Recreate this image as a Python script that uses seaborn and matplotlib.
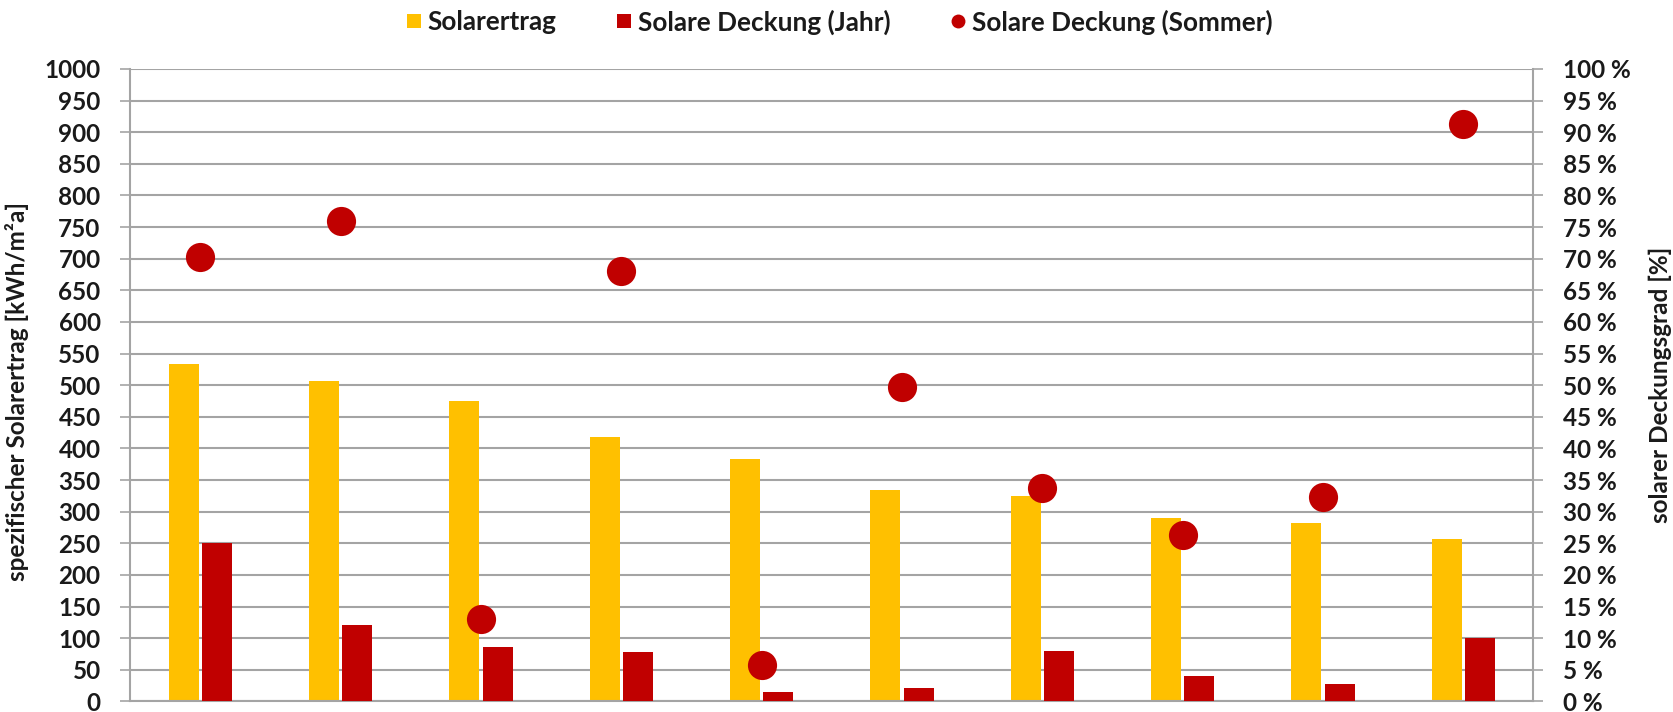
import numpy as np
import pandas as pd
import matplotlib
matplotlib.use("Agg")
import matplotlib.pyplot as plt
from matplotlib import font_manager
from matplotlib.lines import Line2D
from matplotlib.ticker import FuncFormatter
import seaborn as sns

# --- data -------------------------------------------------------------
varianten = ["V1", "V2", "V3", "V4", "V5", "V6", "V7", "V8", "V9", "V10"]
solarertrag = [533, 507, 475, 418, 384, 334, 325, 290, 283, 257]          # kWh/m²a
deckung_jahr = [25.0, 12.1, 8.6, 7.8, 1.5, 2.1, 8.0, 4.0, 2.7, 10.0]        # %
deckung_sommer = [70.3, 76.0, 13.0, 68.0, 5.8, 49.8, 33.7, 26.3, 32.4, 91.3]  # %

left_ticks = list(range(0, 1001, 50))
right_ticks = list(range(0, 101, 5))

series_names = ["Solarertrag", "Solare Deckung (Jahr)", "Solare Deckung (Sommer)"]
left_label = "spezifischer Solarertrag [kWh/m²a]"
right_label = "solarer Deckungsgrad [%]"

# --- style ------------------------------------------------------------
sns.set_style("white")


def pick_bold_family(candidates):
    """Return the first family that ships a real bold face."""
    for fam in candidates:
        for f in font_manager.fontManager.ttflist:
            if f.name == fam and isinstance(f.weight, int) and f.weight >= 700:
                return fam
            if f.name == fam and f.weight in ("bold", "heavy", "black"):
                return fam
    return "DejaVu Sans"


FAMILY = pick_bold_family(["Lato", "Open Sans", "Noto Sans", "Roboto"])
plt.rcParams["font.family"] = [FAMILY, "DejaVu Sans"]
plt.rcParams["font.weight"] = "bold"

YELLOW = "#FFC000"
RED = "#C00000"
GRID = "#a4a4a4"
TEXT = "#1a1a1a"
FS = 17.5
FS_LEG = 18.8

fig = plt.figure(figsize=(16.73, 7.12), dpi=100)
ax = fig.add_axes([0.07771, 0.01475, 0.83882, 0.88834])
ax2 = ax.twinx()

hue_order = series_names[:2]
palette = {series_names[0]: YELLOW, series_names[1]: RED}

df_ertrag = pd.DataFrame({"Variante": varianten, "Wert": solarertrag,
                          "Reihe": series_names[0]})
df_jahr = pd.DataFrame({"Variante": varianten, "Wert": deckung_jahr,
                        "Reihe": series_names[1]})

# yield bars on the left axis, yearly coverage bars on the right axis
sns.barplot(data=df_ertrag, x="Variante", y="Wert", hue="Reihe",
            hue_order=hue_order, palette=palette, order=varianten,
            width=0.475, gap=0.1, dodge=True, saturation=1, errorbar=None,
            legend=False, ax=ax, linewidth=0)
sns.barplot(data=df_jahr, x="Variante", y="Wert", hue="Reihe",
            hue_order=hue_order, palette=palette, order=varianten,
            width=0.475, gap=0.1, dodge=True, saturation=1, errorbar=None,
            legend=False, ax=ax2, linewidth=0)

# summer coverage as large dots
sns.stripplot(x=varianten, y=deckung_sommer, order=varianten, jitter=False,
              color=RED, size=21, linewidth=0, ax=ax2, zorder=4)

# --- axes -------------------------------------------------------------
for a in (ax, ax2):
    a.set_xlim(-0.5, len(varianten) - 0.5)
    a.set_xlabel("")
    a.set_xticks([])
    for s in a.spines.values():
        s.set_visible(False)

ax.set_ylim(0, 1000)
ax2.set_ylim(0, 100)
ax.set_yticks(left_ticks)
ax2.set_yticks(right_ticks)
ax2.yaxis.set_major_formatter(FuncFormatter(lambda v, p: f"{int(v)} %"))

ax.grid(axis="y", color=GRID, linewidth=1.5)
ax.set_axisbelow(True)
ax2.grid(False)

ax.spines["left"].set_visible(True)
ax.spines["bottom"].set_visible(True)
ax2.spines["right"].set_visible(True)
for s in (ax.spines["left"], ax.spines["bottom"], ax2.spines["right"]):
    s.set_color(GRID)
    s.set_linewidth(1.5)

ax.tick_params(axis="y", left=True, length=7.2, width=1.2, color=GRID,
               pad=14, labelsize=FS, labelcolor=TEXT)
ax2.tick_params(axis="y", right=True, length=7.2, width=1.2, color=GRID,
                pad=14, labelsize=FS, labelcolor=TEXT)
for lab in ax.get_yticklabels() + ax2.get_yticklabels():
    lab.set_fontweight("bold")

ax.set_ylabel(left_label, fontsize=FS, fontweight="bold", color=TEXT)
ax.yaxis.set_label_coords(-0.0717, 0.49)
ax2.set_ylabel(right_label, fontsize=FS, fontweight="bold", color=TEXT,
               rotation=90)
ax2.yaxis.set_label_coords(1.082, 0.5)

# --- legend -----------------------------------------------------------
handles = [
    Line2D([], [], linestyle="none", marker="s", markersize=10,
           markerfacecolor=YELLOW, markeredgewidth=0),
    Line2D([], [], linestyle="none", marker="s", markersize=10,
           markerfacecolor=RED, markeredgewidth=0),
    Line2D([], [], linestyle="none", marker="o", markersize=10,
           markerfacecolor=RED, markeredgewidth=0),
]
fig.legend(handles, series_names, loc="center",
           bbox_to_anchor=(0.5015, 1 - 22 / 712), ncol=3, frameon=False,
           prop={"size": FS_LEG, "weight": "bold"}, handlelength=0.6,
           handletextpad=0.22, columnspacing=2.3, labelcolor=TEXT)

fig.savefig("out.png", dpi=100)
